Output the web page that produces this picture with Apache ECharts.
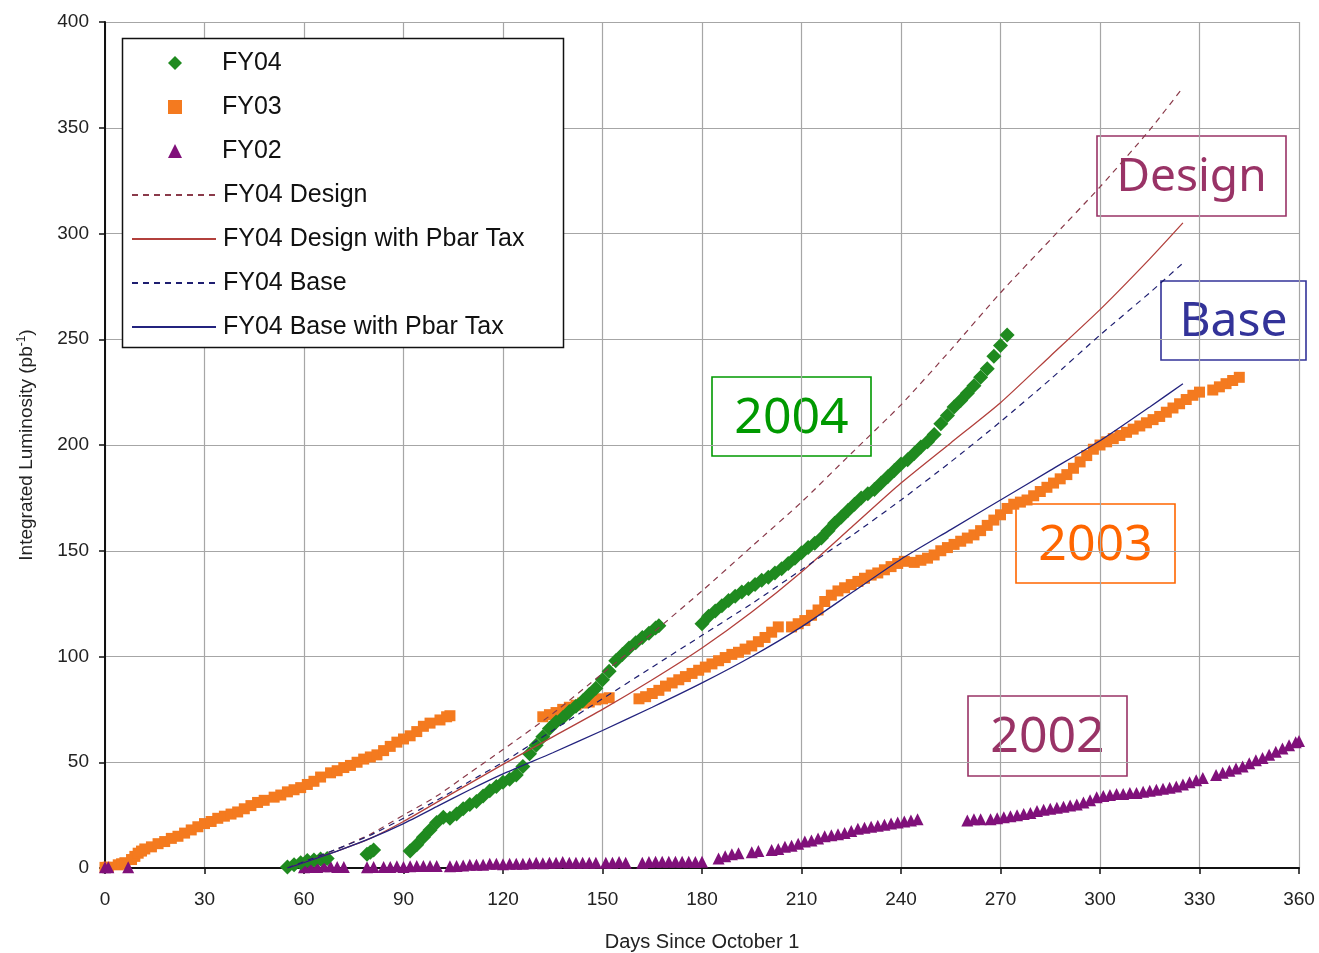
<!DOCTYPE html>
<html>
<head>
<meta charset="utf-8">
<title>Integrated Luminosity</title>
<script src="https://cdn.jsdelivr.net/npm/echarts/dist/echarts.min.js"></script>
<style>
  html, body { margin: 0; padding: 0; background: #ffffff; }
  #chart { width: 1319px; height: 953px; }
</style>
</head>
<body>
<div id="chart"></div>
<script>
// Axis ticks
const xTicks = [0, 30, 60, 90, 120, 150, 180, 210, 240, 270, 300, 330, 360];
const yTicks = [0, 50, 100, 150, 200, 250, 300, 350, 400];

// Series names (legend order)
const seriesNames = ['FY04', 'FY03', 'FY02', 'FY04 Design', 'FY04 Design with Pbar Tax', 'FY04 Base', 'FY04 Base with Pbar Tax'];

// Integrated luminosity by day, [day, pb^-1]
const fy04 = [
  [55,0.5],[57,1.5],[59,2.5],[61,3.5],[63,3.8],[65,4.2],[67,4.5],
  [79,6.5],[80,7.5],[81,8.5],
  [92,8],[94,11],[96,14.5],[98,18],[100,21.5],[102,24],[104,23.5],[106,25.5],[108,28],[110,30],
  [112,31.5],[114,34],[116,36.5],[118,38.5],[120,40.5],[122,42],[124,44],[126,48],[128,54],[130,58],
  [132,62],[134,66],[136,69],[138,71],[140,74],[142,76.5],[144,79],[146,82],[148,85],[150,89],
  [152,93],[154,98],[156,101],[158,104],[160,106.5],[162,109],[164,111],[166,113.5],[167,114.5],
  [180,115.5],[182,119],[184,121.5],[186,124],[188,126.5],[190,128.5],[192,130.5],[194,132],[196,134],[198,136],
  [200,137.5],[202,139.5],[204,141.5],[206,144],[208,146.5],[210,149],[212,151.5],[214,153.5],[216,156],[218,159.5],
  [220,163],[222,166],[224,169],[226,172],[228,175],[230,177],[232,179],[234,182],[236,185],[238,188],
  [240,191],[242,193],[244,196],[246,199],[248,201.5],[250,205],[252,210],[254,214],[256,218],[258,221],
  [260,224.5],[262,228],[264,232],[266,236],[268,242],[270,247],[272,252]
];

const fy03 = [
  [0,0.3],[1,0.4],[4,1.5],[5,2],[6,2.5],[8,4],[9,5.5],[10,7],[11,8],[12,9],[14,10],[16,11.5],[18,12.5],
  [20,14],[22,15],[24,16.5],[26,18],[28,19.5],[30,21],[32,22],[34,23.5],[36,24.5],[38,25.5],[40,26.5],
  [42,28],[44,29.5],[46,31],[48,32],[51,33.5],[53,34.5],[55,36],[57,37],[59,38],[61,39.5],[63,41],[65,43],
  [68,45],[70,46],[72,47.5],[74,48.5],[76,50],[78,51.5],[80,52.5],[82,53.5],[84,55.5],[86,57.5],[88,59.5],
  [90,61],[92,62.5],[94,64.5],[96,67],[98,68.5],[101,70],[103,71.5],[104,72],
  [132,71.5],[134,72.5],[136,73.5],[138,75],[140,76],[142,77],[144,78],[146,78.5],[148,79.5],[150,80],[152,80.5],
  [161,80],[163,81],[165,82.5],[167,84],[169,86],[171,87.5],[173,89],[175,90.5],[177,92],[179,93.5],
  [181,95],[183,96.5],[185,98],[187,99.5],[189,101],[191,102],[193,103.5],[195,105],[197,107],[199,109],[201,111.5],[203,114],
  [207,114],[209,115.5],[211,117],[213,119.5],[215,122],[217,126],[219,129],[221,131],[223,132.5],[225,134],
  [227,135.5],[229,137],[231,138.5],[233,139.5],[235,141],[237,142.5],[239,144],[241,145],
  [244,144.5],[246,145.5],[248,146.5],[250,148],[252,150],[254,151.5],[256,153],[258,154.5],[260,156],[262,157.5],
  [264,159.5],[266,162],[268,164.5],[270,167],[272,170],[274,172],[276,173],[278,174],[280,176],[282,178],
  [284,180],[286,182],[288,184],[290,186],[292,189],[294,192],[296,195],[298,198],[300,200],[302,201.5],
  [304,203],[306,204.5],[308,206],[310,207.5],[312,209],[314,210.5],[316,212],[318,213.5],[320,215.5],[322,217.5],
  [324,219.5],[326,221.5],[328,223.5],[330,225],[334,226],[336,227.5],[338,229],[340,230.5],[342,232]
];

const fy02 = [
  [0,0.3],[1,0.3],[7,0.3],
  [60,0.3],[62,0.5],[64,0.5],[66,0.8],[68,0.8],[70,0.5],[72,0.5],
  [79,0.3],[81,0.5],[84,0.5],[86,0.5],[88,0.8],[90,0.5],[92,0.8],[94,1],[96,1],[98,1],[100,1],
  [104,0.8],[106,1],[108,1.2],[110,1.5],[112,1.5],[114,1.5],[116,2],[118,2],[120,1.8],[122,2],[124,2],[126,2],
  [128,2.2],[130,2.5],[132,2.2],[134,2.5],[136,2.5],[138,2.8],[140,2.5],[142,2.5],[144,2.5],[146,2.5],[148,2.5],
  [151,2.5],[153,2.5],[155,2.8],[157,2.5],
  [162,2.5],[164,2.8],[166,3],[168,3],[170,3],[172,3],[174,3],[176,3],[178,2.8],[180,3],
  [185,4.5],[187,5.5],[189,6.5],[191,7],[195,7.5],[197,8],
  [201,8.5],[203,9],[205,10],[207,10.5],[209,11.5],[211,12.5],[213,13],[215,14],[217,15],[219,15.5],
  [221,16],[223,16.5],[225,17.5],[227,18.5],[229,19],[231,19.5],[233,20],[235,20.5],[237,21],[239,21.5],
  [241,22],[243,22.5],[245,23],
  [260,22.5],[262,23],[264,23],[267,23],[269,23.5],[271,24],[273,24.5],[275,25],[277,25.5],[279,26],
  [281,27],[283,27.5],[285,28],[287,28.5],[289,29],[291,29.5],[293,30],[295,31],[297,32],[299,33.5],
  [301,34],[303,34.5],[305,35],[307,35],[309,35.5],[311,35.5],[313,36],[315,36.5],[317,37],[319,37.5],
  [321,38],[323,38.5],[325,39.5],[327,40.5],[329,41.5],[331,42.5],
  [335,44],[337,45],[339,46],[341,47],[343,48],[345,49.5],[347,51],[349,52],[351,53.5],[353,55],
  [355,56.5],[357,58],[359,59.5],[360,60]
];

// Projection curves, [day, pb^-1]
const fy04Design = [
  [55,0],[60,3],[70,9],[80,16],[90,25],[100,34],[110,45],[120,56],[135,73],[150,92],[165,111],[180,131],
  [195,152],[210,173],[225,196],[240,219],[255,245],[270,272],[285,297],[300,322],[315,349],[325,369]
];
const fy04DesignTax = [
  [55,0],[60,2.5],[70,8],[80,14],[90,22],[100,31],[110,40],[120,49],[135,62],[150,75],[165,89],[180,104],
  [195,121],[210,140],[225,161],[240,182],[255,201],[270,220],[285,242],[300,264],[315,288],[325,305]
];
const fy04Base = [
  [55,0],[60,3],[70,9],[80,15.5],[90,23.5],[100,32],[110,41],[120,50],[135,65],[150,80],[165,95],[180,110],
  [195,125],[210,141],[225,157],[240,174],[255,192],[270,211],[285,231],[300,252],[315,272],[325,286]
];
const fy04BaseTax = [
  [55,0],[60,2.5],[70,8],[80,14],[90,21],[100,29],[110,37],[120,44.5],[135,54.5],[150,65],[165,76],[180,87.5],
  [195,100],[210,114],[225,130],[240,146],[255,160],[270,174],[285,188],[300,202],[315,218],[325,229]
];

// Boxed year / scenario labels
const tagTexts = ['Design', 'Base', '2004', '2003', '2002'];

const chart = echarts.init(document.getElementById('chart'), null, { renderer: 'canvas' });

const axisFont = 'Liberation Sans, Arial, sans-serif';
const tagFont = '"Noto Sans", "DejaVu Sans", sans-serif';

function tagBox(text, x, y, w, h, color, fontSize) {
  return {
    type: 'group',
    z: 6,
    children: [
      { type: 'rect', shape: { x: x, y: y, width: w, height: h },
        style: { fill: 'none', stroke: color, lineWidth: 1.6 } },
      { type: 'text', x: x + w / 2, y: y + h / 2 + 2,
        style: { text: text, fill: color, font: 'normal ' + fontSize + 'px ' + tagFont,
                 textAlign: 'center', textVerticalAlign: 'middle' } }
    ]
  };
}

const lineBase = { type: 'line', symbol: 'none', smooth: 0.2, z: 4, silent: true };

const legendText = { fontFamily: axisFont, fontSize: 25, color: '#111', lineHeight: 30 };

const option = {
  backgroundColor: '#ffffff',
  animation: false,
  grid: { left: 105, top: 22, width: 1194, height: 846, containLabel: false, outerBoundsMode: 'none' },
  xAxis: {
    type: 'value', min: xTicks[0], max: xTicks[xTicks.length - 1], interval: 30,
    name: 'Days Since October 1', nameLocation: 'middle', nameGap: 64,
    nameTextStyle: { fontFamily: axisFont, fontSize: 20, color: '#222' },
    axisLine: { show: true, onZero: false, lineStyle: { color: '#111', width: 2 } },
    axisTick: { show: true, length: 6, inside: false, lineStyle: { color: '#111', width: 1.5 } },
    axisLabel: { fontFamily: axisFont, fontSize: 19, color: '#222', margin: 22 },
    splitLine: { show: true, lineStyle: { color: '#a6a6a6', width: 1.2 } }
  },
  yAxis: {
    type: 'value', min: yTicks[0], max: yTicks[yTicks.length - 1], interval: 50,
    name: 'Integrated Luminosity (pb{sup|-1})', nameLocation: 'middle', nameGap: 68,
    nameTextStyle: {
      fontFamily: axisFont, fontSize: 19, color: '#222',
      rich: { sup: { fontFamily: axisFont, fontSize: 12, color: '#222', verticalAlign: 'top', padding: [0, 0, 9, 0] } }
    },
    axisLine: { show: true, onZero: false, lineStyle: { color: '#111', width: 2 } },
    axisTick: { show: true, length: 6, inside: false, lineStyle: { color: '#111', width: 1.5 } },
    axisLabel: { fontFamily: axisFont, fontSize: 19, color: '#222', margin: 16 },
    splitLine: { show: true, lineStyle: { color: '#a6a6a6', width: 1.2 } }
  },
  legend: [
    {
      // marker series
      data: seriesNames.slice(0, 3),
      orient: 'vertical',
      left: 168, top: 48,
      padding: 0,
      itemWidth: 14, itemHeight: 14, itemGap: 14,
      z: 8,
      textStyle: Object.assign({ padding: [0, 0, 0, 35] }, legendText),
      selectedMode: false
    },
    {
      // projection lines
      data: seriesNames.slice(3),
      orient: 'vertical',
      left: 131, top: 180,
      padding: 0,
      itemWidth: 84, itemHeight: 14, itemGap: 14,
      z: 8,
      itemStyle: { opacity: 0 },
      textStyle: Object.assign({ padding: [0, 0, 0, 2] }, legendText),
      selectedMode: false
    }
  ],
  graphic: [
    { type: 'rect', z: 7, shape: { x: 122.5, y: 38.5, width: 441, height: 309 },
      style: { fill: '#ffffff', stroke: '#111', lineWidth: 1.5 } },
    tagBox(tagTexts[0], 1097, 136, 189, 80, '#993366', 46),
    tagBox(tagTexts[1], 1161, 281, 145, 79, '#333399', 48),
    tagBox(tagTexts[2], 712, 377, 159, 79, '#009900', 50),
    tagBox(tagTexts[3], 1016, 504, 159, 79, '#ff6600', 50),
    tagBox(tagTexts[4], 968, 696, 159, 80, '#993366', 50)
  ],
  series: [
    { name: seriesNames[0], type: 'scatter', data: fy04, symbol: 'diamond', symbolSize: 15, z: 3,
      itemStyle: { color: '#1f8a1f', opacity: 1 } },
    { name: seriesNames[1], type: 'scatter', data: fy03, symbol: 'rect', symbolSize: 11, z: 2,
      itemStyle: { color: '#f47a1f', opacity: 1 } },
    { name: seriesNames[2], type: 'scatter', data: fy02, symbol: 'triangle', symbolSize: 12, z: 2,
      itemStyle: { color: '#80107a', opacity: 1 } },
    Object.assign({}, lineBase, { name: seriesNames[3], data: fy04Design,
      itemStyle: { color: '#8a3a4a' }, lineStyle: { color: '#8a3a4a', width: 1.2, type: [6, 5] } }),
    Object.assign({}, lineBase, { name: seriesNames[4], data: fy04DesignTax,
      itemStyle: { color: '#b2403c' }, lineStyle: { color: '#b2403c', width: 1.3, type: 'solid' } }),
    Object.assign({}, lineBase, { name: seriesNames[5], data: fy04Base,
      itemStyle: { color: '#1e1e70' }, lineStyle: { color: '#1e1e70', width: 1.2, type: [6, 5] } }),
    Object.assign({}, lineBase, { name: seriesNames[6], data: fy04BaseTax,
      itemStyle: { color: '#23237e' }, lineStyle: { color: '#23237e', width: 1.3, type: 'solid' } })
  ]
};

chart.setOption(option);
</script>
</body>
</html>
